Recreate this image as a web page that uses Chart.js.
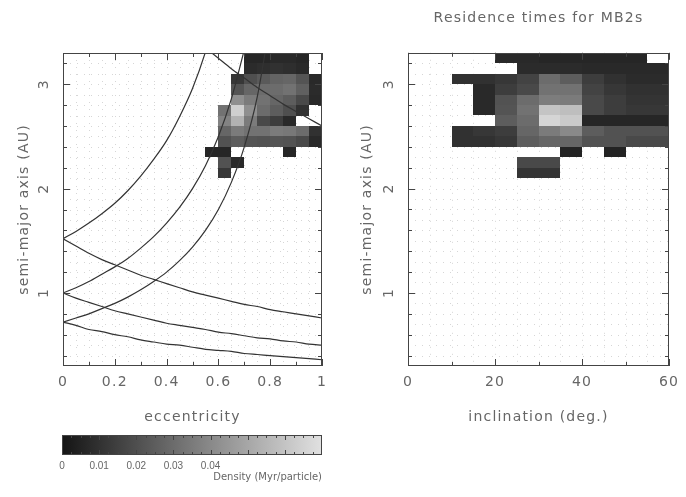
<!DOCTYPE html>
<html>
<head>
<meta charset="utf-8">
<script src="https://cdn.jsdelivr.net/npm/chart.js@4.4.1/dist/chart.umd.min.js"></script>
<style>
  html, body { margin: 0; padding: 0; background: #fff; }
  #wrap { position: relative; width: 686px; height: 497px; }
  canvas { position: absolute; }
</style>
</head>
<body>
<div id="wrap">
  <canvas id="ecc" width="343" height="430" style="left:0;top:0"></canvas>
  <canvas id="inc" width="343" height="430" style="left:343px;top:0"></canvas>
  <canvas id="bar" width="343" height="72" style="left:0;top:425px"></canvas>
</div>
<script>
// bins (lower edges) of the density maps
var aRows = [3.2, 3.1, 3.0, 2.9, 2.8, 2.7, 2.6, 2.5, 2.4, 2.3, 2.2, 2.1];
var aStep = 0.1;
var eCols = [0.55, 0.6, 0.65, 0.7, 0.75, 0.8, 0.85, 0.9, 0.95];
var eStep = 0.05;
var iCols = [10, 15, 20, 25, 30, 35, 40, 45, 50, 55];
var iStep = 5;

// residence density (Myr/particle), rows from top (a = 3.2) down
var densityEcc = [
  [null, null, null, 0.006, 0.006, 0.007, 0.007, 0.006, null],
  [null, null, null, 0.008, 0.009, 0.010, 0.009, 0.007, null],
  [null, null, 0.012, 0.020, 0.024, 0.027, 0.028, 0.022, 0.007],
  [null, null, 0.022, 0.028, 0.030, 0.030, 0.032, 0.026, 0.008],
  [null, null, 0.042, 0.035, 0.032, 0.028, 0.025, 0.018, 0.007],
  [null, 0.032, 0.064, 0.042, 0.030, 0.025, 0.020, 0.010, null],
  [null, 0.038, 0.054, 0.035, 0.018, 0.014, 0.007, null, null],
  [null, 0.028, 0.035, 0.032, 0.032, 0.035, 0.034, 0.030, 0.010],
  [null, 0.021, 0.025, 0.022, 0.021, 0.022, 0.021, 0.018, 0.007],
  [0.006, 0.006, null, null, null, null, 0.006, null, null],
  [null, 0.021, 0.007, null, null, null, null, null, null],
  [null, 0.012, null, null, null, null, null, null, null]
];
var densityInc = [
  [null, null, 0.007, 0.007, 0.006, 0.006, 0.006, 0.006, 0.006, null],
  [null, null, null, 0.008, 0.008, 0.008, 0.007, 0.007, 0.007, 0.007],
  [0.010, 0.010, 0.012, 0.016, 0.030, 0.025, 0.014, 0.010, 0.008, 0.008],
  [null, 0.007, 0.014, 0.018, 0.032, 0.032, 0.016, 0.012, 0.010, 0.010],
  [null, 0.007, 0.021, 0.030, 0.036, 0.035, 0.018, 0.014, 0.011, 0.011],
  [null, 0.007, 0.022, 0.032, 0.060, 0.058, 0.018, 0.014, 0.012, 0.012],
  [null, null, 0.025, 0.030, 0.066, 0.062, 0.006, 0.006, 0.006, 0.006],
  [0.010, 0.012, 0.014, 0.028, 0.035, 0.040, 0.025, 0.021, 0.021, 0.021],
  [0.010, 0.010, 0.012, 0.025, 0.028, 0.028, 0.021, 0.021, 0.018, 0.018],
  [null, null, null, null, null, 0.005, null, 0.005, null, null],
  [null, null, null, 0.018, 0.018, null, null, null, null, null],
  [null, null, null, 0.011, 0.011, null, null, null, null, null]
];

// planet-crossing curves in (e, a)
var eCurve = [0, 0.05, 0.1, 0.15, 0.2, 0.25, 0.3, 0.35, 0.4, 0.45, 0.5, 0.55, 0.6, 0.65, 0.7, 0.75, 0.8, 0.85, 0.9, 0.95, 1.0];
var marsPeri  = [1.52, 1.59, 1.67, 1.76, 1.86, 1.98, 2.12, 2.28, 2.46, 2.69, 2.96, 3.31, 3.76];
var earthPeri = [1.00, 1.05, 1.11, 1.18, 1.25, 1.33, 1.43, 1.54, 1.67, 1.82, 2.00, 2.22, 2.50, 2.86, 3.33];
var venusPeri = [0.72, 0.76, 0.80, 0.85, 0.90, 0.96, 1.03, 1.11, 1.20, 1.31, 1.44, 1.60, 1.80, 2.06, 2.40, 2.88, 3.60];
var marsAph   = [1.52, 1.45, 1.38, 1.32, 1.27, 1.22, 1.17, 1.13, 1.09, 1.05, 1.01, 0.98, 0.95, 0.92, 0.89, 0.87, 0.84, 0.82, 0.80, 0.78, 0.76];
var earthAph  = [1.00, 0.95, 0.91, 0.87, 0.83, 0.80, 0.77, 0.74, 0.71, 0.69, 0.67, 0.65, 0.625, 0.61, 0.59, 0.57, 0.56, 0.54, 0.53, 0.51, 0.50];
var venusAph  = [0.72, 0.69, 0.65, 0.63, 0.60, 0.58, 0.55, 0.53, 0.51, 0.50, 0.48, 0.46, 0.45, 0.44, 0.42, 0.41, 0.40, 0.39, 0.38, 0.37, 0.36];
var eJup      = [0.55, 0.6, 0.65, 0.7, 0.75, 0.8, 0.85, 0.9, 0.95, 1.0];
var jupAph    = [3.35, 3.25, 3.15, 3.06, 2.97, 2.89, 2.81, 2.74, 2.67, 2.60];

// ticks
var eLabels = [0, 0.2, 0.4, 0.6, 0.8, 1];
var eMinor = [0.1, 0.3, 0.5, 0.7, 0.9];
var iLabels = [0, 20, 40, 60];
var iMinor = [10, 30, 50];
var aLabels = [1, 2, 3];
var aMinor = [0.4, 0.6, 0.8, 1.2, 1.4, 1.6, 1.8, 2.2, 2.4, 2.6, 2.8, 3.2];
var barLabels = [0, 0.01, 0.02, 0.03, 0.04];
var densMax = 0.07;

Chart.defaults.font.family = 'DejaVu Sans';
Chart.defaults.font.size = 14;
Chart.defaults.color = '#666';
Chart.defaults.animation = false;

function gray(d) {
  var g = Math.round(20 + Math.min(d / densMax, 1) * 205);
  return 'rgb(' + g + ',' + g + ',' + g + ')';
}

function pts(xs, ys) {
  return ys.map(function (y, i) { return { x: xs[i], y: y }; });
}

function curve(xs, ys) {
  return {
    data: pts(xs, ys), showLine: true, pointRadius: 0,
    borderColor: '#333', borderWidth: 1.2, cubicInterpolationMode: 'monotone'
  };
}

// grid dots, density cells, frame with inward ticks, rotated y labels
function panelPlugin(cfg) {
  return {
    id: 'panel',
    beforeDraw: function (chart) { chart.ctx.letterSpacing = '1.2px'; },
    beforeDatasetsDraw: function (chart) {
      var ctx = chart.ctx, a = chart.chartArea, x = chart.scales.x, y = chart.scales.y;
      ctx.save();
      ctx.strokeStyle = '#d6d6d6';
      ctx.lineWidth = 1;
      ctx.setLineDash([1, 6]);
      var k, px, py;
      for (k = 1; x.min + k * cfg.gridX < x.max - 1e-9; k++) {
        px = Math.round(x.getPixelForValue(x.min + k * cfg.gridX)) + 0.5;
        ctx.beginPath(); ctx.moveTo(px, a.top); ctx.lineTo(px, a.bottom); ctx.stroke();
      }
      for (k = 1; y.min + k * cfg.gridY < y.max - 1e-9; k++) {
        py = Math.round(y.getPixelForValue(y.min + k * cfg.gridY)) + 0.5;
        ctx.beginPath(); ctx.moveTo(a.left, py); ctx.lineTo(a.right, py); ctx.stroke();
      }
      ctx.setLineDash([]);
      ctx.beginPath(); ctx.rect(a.left, a.top, a.width, a.height); ctx.clip();
      cfg.rows.forEach(function (a0, r) {
        cfg.cols.forEach(function (x0, c) {
          var d = cfg.cells[r][c];
          if (d == null) return;
          var x0p = Math.round(x.getPixelForValue(x0));
          var x1p = Math.round(x.getPixelForValue(x0 + cfg.dx));
          var y1p = Math.round(y.getPixelForValue(a0));
          var y0p = Math.round(y.getPixelForValue(a0 + cfg.dy));
          ctx.fillStyle = gray(d);
          ctx.fillRect(x0p, y0p, x1p - x0p, y1p - y0p);
        });
      });
      ctx.restore();
    },
    afterDraw: function (chart) {
      var ctx = chart.ctx, a = chart.chartArea, x = chart.scales.x, y = chart.scales.y;
      ctx.save();
      ctx.strokeStyle = '#444';
      ctx.lineWidth = 1;
      ctx.strokeRect(Math.round(a.left) + 0.5, Math.round(a.top) + 0.5,
        Math.round(a.width) - 1, Math.round(a.height) - 1);
      ctx.beginPath();
      function xt(v, len) {
        var px = Math.round(x.getPixelForValue(v)) + 0.5;
        ctx.moveTo(px, a.bottom); ctx.lineTo(px, a.bottom - len);
        ctx.moveTo(px, a.top); ctx.lineTo(px, a.top + len);
      }
      function yt(v, len) {
        var py = Math.round(y.getPixelForValue(v)) + 0.5;
        ctx.moveTo(a.left, py); ctx.lineTo(a.left + len, py);
        ctx.moveTo(a.right, py); ctx.lineTo(a.right - len, py);
      }
      cfg.xLabels.forEach(function (v) { xt(v, 7); });
      cfg.xMinor.forEach(function (v) { xt(v, 4); });
      aLabels.forEach(function (v) { yt(v, 7); });
      aMinor.forEach(function (v) { yt(v, 4); });
      ctx.stroke();
      ctx.fillStyle = '#666';
      ctx.font = '14px "DejaVu Sans"';
      ctx.textAlign = 'center';
      ctx.textBaseline = 'middle';
      aLabels.forEach(function (v) {
        ctx.save();
        ctx.translate(a.left - 19, y.getPixelForValue(v));
        ctx.rotate(-Math.PI / 2);
        ctx.fillText(String(v), 0, 0);
        ctx.restore();
      });
      ctx.restore();
    }
  };
}

function xAxis(min, max, labels, title) {
  return {
    type: 'linear', min: min, max: max,
    grid: { display: false, drawTicks: false }, border: { display: false },
    afterBuildTicks: function (s) { s.ticks = labels.map(function (v) { return { value: v }; }); },
    ticks: { padding: 8, autoSkip: false, maxRotation: 0, callback: function (v) { return String(v); } },
    title: { display: true, text: title, padding: { top: 0, bottom: 4 } },
    afterFit: function (s) { s.height = 64; }
  };
}

function yAxis(width) {
  return {
    type: 'linear', min: 0.3, max: 3.3,
    grid: { display: false, drawTicks: false }, border: { display: false },
    ticks: { display: false },
    title: { display: true, text: 'semi-major axis (AU)', padding: { top: 16, bottom: 0 } },
    afterFit: function (s) { s.width = width; }
  };
}

new Chart(document.getElementById('ecc'), {
  type: 'scatter',
  data: {
    datasets: [
      curve(eCurve, marsPeri), curve(eCurve, earthPeri), curve(eCurve, venusPeri),
      curve(eCurve, marsAph), curve(eCurve, earthAph), curve(eCurve, venusAph),
      curve(eJup, jupAph)
    ]
  },
  options: {
    responsive: false,
    layout: { padding: { top: 53, right: 21, left: 0, bottom: 0 } },
    plugins: { legend: { display: false }, tooltip: { enabled: false } },
    scales: { x: xAxis(0, 1, eLabels, 'eccentricity'), y: yAxis(63) }
  },
  plugins: [panelPlugin({
    rows: aRows, cols: eCols, dx: eStep, dy: aStep, cells: densityEcc,
    gridX: 0.05, gridY: 0.1, xLabels: eLabels, xMinor: eMinor
  })]
});

new Chart(document.getElementById('inc'), {
  type: 'scatter',
  data: { datasets: [] },
  options: {
    responsive: false,
    layout: { padding: { top: 0, right: 17, left: 0, bottom: 0 } },
    plugins: {
      legend: { display: false }, tooltip: { enabled: false },
      title: {
        display: true, text: 'Residence times for MB2s', fullSize: false,
        color: '#666', font: { size: 14, weight: 'normal', lineHeight: 1.2 },
        padding: { top: 10, bottom: 26 }
      }
    },
    scales: { x: xAxis(0, 60, iLabels, 'inclination (deg.)'), y: yAxis(65) }
  },
  plugins: [panelPlugin({
    rows: aRows, cols: iCols, dx: iStep, dy: aStep, cells: densityInc,
    gridX: 5, gridY: 0.1, xLabels: iLabels, xMinor: iMinor
  })]
});

// colour wedge
new Chart(document.getElementById('bar'), {
  type: 'scatter',
  data: { datasets: [] },
  options: {
    responsive: false,
    layout: { padding: { top: 10, right: 21, left: 62, bottom: 0 } },
    plugins: { legend: { display: false }, tooltip: { enabled: false } },
    scales: {
      x: {
        type: 'linear', min: 0, max: densMax,
        grid: { display: false, drawTicks: false }, border: { display: false },
        afterBuildTicks: function (s) { s.ticks = barLabels.map(function (v) { return { value: v }; }); },
        ticks: { padding: 5, autoSkip: false, maxRotation: 0, font: { family: 'Liberation Sans', size: 10 },
          callback: function (v) { return String(v); } },
        title: { display: true, text: 'Density (Myr/particle)', align: 'end', font: { size: 10 },
          padding: { top: 0, bottom: 14 } },
        afterFit: function (s) { s.height = 42; }
      },
      y: { display: false, min: 0, max: 1 }
    }
  },
  plugins: [{
    id: 'wedge',
    beforeDatasetsDraw: function (chart) {
      var ctx = chart.ctx, a = chart.chartArea, x = chart.scales.x;
      var g = ctx.createLinearGradient(x.getPixelForValue(0), 0, x.getPixelForValue(densMax), 0);
      g.addColorStop(0, gray(0));
      g.addColorStop(1, gray(densMax));
      ctx.save();
      ctx.fillStyle = g;
      ctx.fillRect(a.left, a.top, a.width, a.height);
      ctx.strokeStyle = '#444';
      ctx.lineWidth = 1;
      ctx.strokeRect(Math.round(a.left) + 0.5, Math.round(a.top) + 0.5, Math.round(a.width) - 1, Math.round(a.height) - 1);
      ctx.beginPath();
      for (var k = 1; k * 0.0025 < densMax; k++) {
        var px = Math.round(x.getPixelForValue(k * 0.0025)) + 0.5;
        var len = (k % 4 === 0) ? 5 : 3;
        ctx.moveTo(px, a.top); ctx.lineTo(px, a.top + len);
        ctx.moveTo(px, a.bottom); ctx.lineTo(px, a.bottom - len);
      }
      ctx.stroke();
      ctx.restore();
    }
  }]
});
</script>
</body>
</html>
